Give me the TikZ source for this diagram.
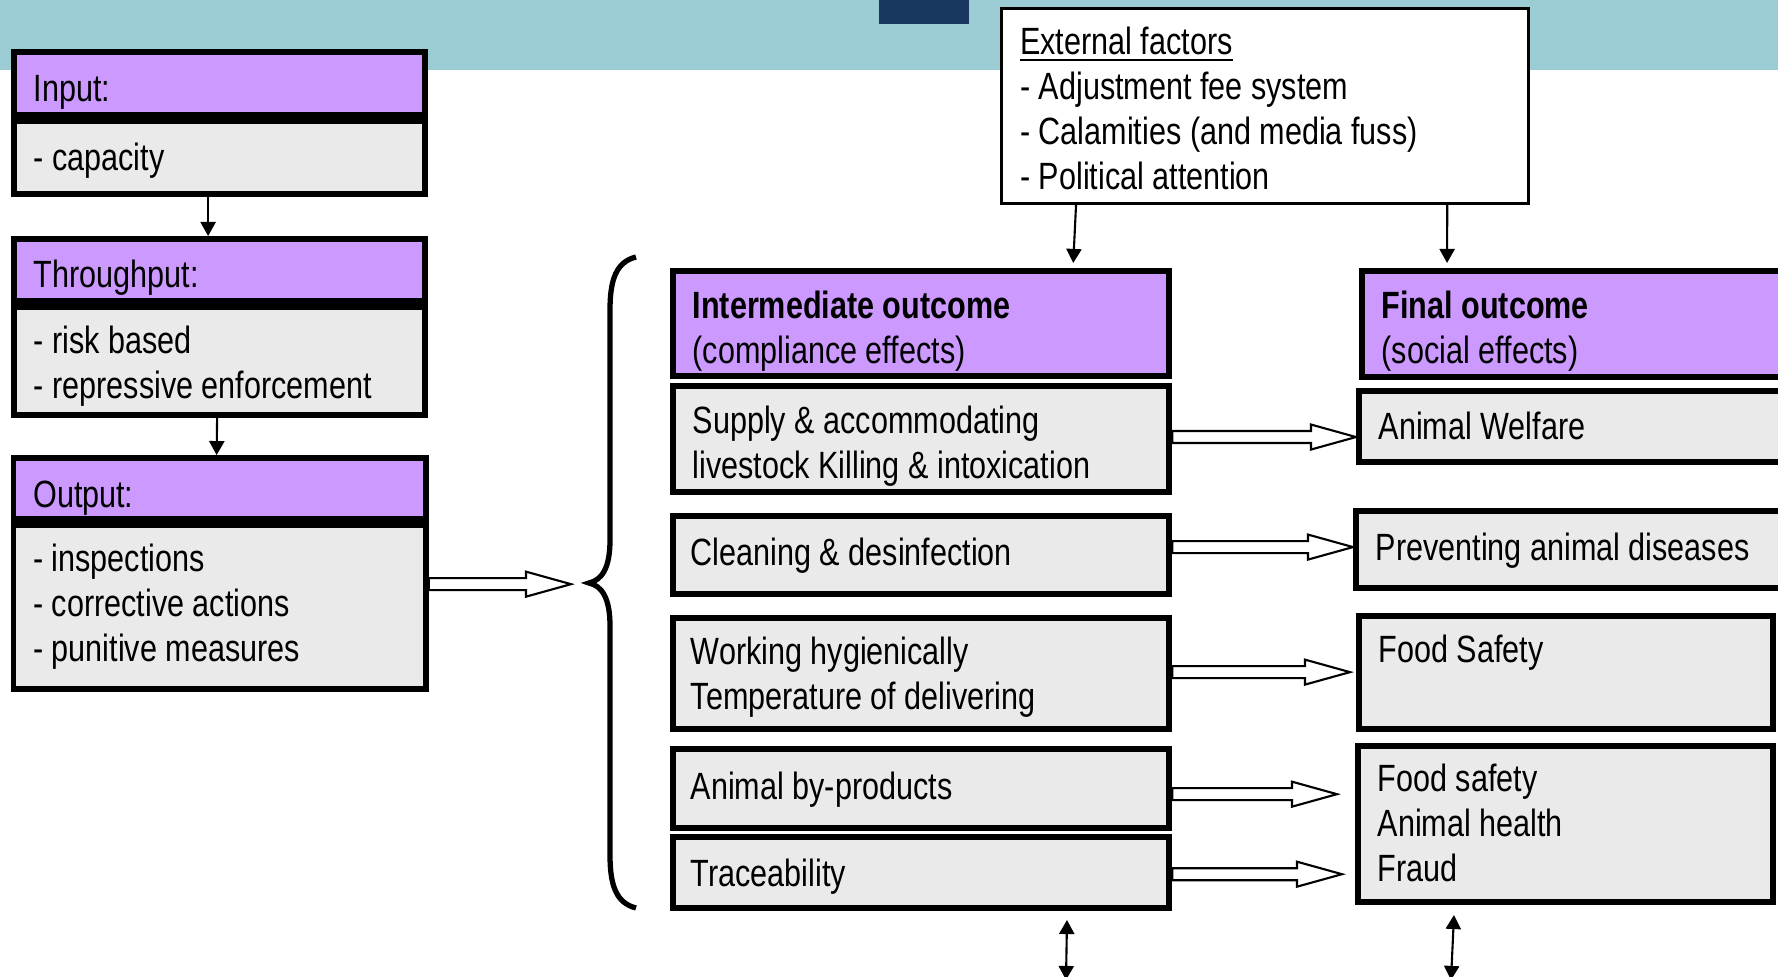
\documentclass[tikz,border=0pt]{standalone}
\usepackage{fontspec}
\setmainfont[FakeStretch=0.805]{Liberation Sans}
\usetikzlibrary{arrows.meta, positioning, calc}
\definecolor{headpurple}{HTML}{CC99FF}
\definecolor{bodygray}{HTML}{EAEAEA}
\definecolor{bandteal}{HTML}{9BCBD3}
\definecolor{bandnavy}{HTML}{17375E}
\newcommand{\boxfont}{\fontsize{10.8pt}{12.8pt}\selectfont}
\tikzstyle{head} = [rectangle, draw=black, line width=1.7pt, fill=headpurple, anchor=north west, inner sep=0pt]
\tikzstyle{body} = [rectangle, draw=black, line width=1.7pt, fill=bodygray, anchor=north west, inner sep=0pt]
\tikzstyle{factors} = [rectangle, draw=black, line width=0.8pt, fill=white, anchor=north west, inner sep=0pt]
\tikzstyle{boxtext} = [anchor=north west, inner sep=0pt, align=left, font=\boxfont, execute at begin node=\strut]
\tikzstyle{arrow} = [line width=0.6pt, -{Triangle[width=4.3pt,length=4pt]}]
\tikzstyle{twoway} = [line width=0.6pt, {Triangle[width=4.3pt,length=4pt]}-{Triangle[width=4.3pt,length=4pt]}]
\tikzstyle{hollow} = [draw=black, line width=0.6pt, fill=white]
\tikzstyle{bracket} = [line width=1.5pt]
% block arrow from #1 (start) to #2 (tip), horizontal at the height of #1
\newcommand{\blockarrow}[2]{%
  \draw[hollow] let \p1=#1, \p2=#2 in
    (\x1,\y1+0.06cm) -- (\x2-0.45cm,\y1+0.06cm) -- (\x2-0.45cm,\y1+0.125cm) -- (\x2,\y1)
    -- (\x2-0.45cm,\y1-0.125cm) -- (\x2-0.45cm,\y1-0.06cm) -- (\x1,\y1-0.06cm) -- cycle;}

\begin{document}
\begin{tikzpicture}[x=0.01cm, y=-0.01cm]
        \useasboundingbox (0,0) rectangle (1778,977);
        \clip (0,0) rectangle (1778,977);
        % Background band
        \fill[bandteal] (0,0) rectangle (1778,70);
        \fill[bandnavy] (879,0) rectangle (969,24);

        % Left column
        \node (inHead) [head, minimum width=4.11cm, minimum height=0.63cm] at (11,49) {};
        \node (inBody) [body, minimum width=4.11cm, minimum height=0.73cm, below=0pt of inHead] {};
        \node (thrHead) [head, minimum width=4.11cm, minimum height=0.62cm, below=0.39cm of inBody] {};
        \node (thrBody) [body, minimum width=4.11cm, minimum height=1.08cm, below=0pt of thrHead] {};
        \node (outHead) [head, minimum width=4.12cm, minimum height=0.61cm, below=0.37cm of thrBody] {};
        \node (outBody) [body, minimum width=4.12cm, minimum height=1.64cm, below=0pt of outHead] {};

        \node (inHeadT) [boxtext] at ([xshift=0.22cm,yshift=-0.2cm]inHead.north west) {Input:};
        \node (inBodyT) [boxtext] at ([xshift=0.22cm,yshift=-0.2cm]inBody.north west) {- capacity};
        \node (thrHeadT) [boxtext] at ([xshift=0.22cm,yshift=-0.195cm]thrHead.north west) {Throughput:};
        \node (thrBodyT) [boxtext] at ([xshift=0.22cm,yshift=-0.21cm]thrBody.north west) {- risk based\\- repressive enforcement};
        \node (outHeadT) [boxtext] at ([xshift=0.22cm,yshift=-0.2cm]outHead.north west) {Output:};
        \node (outBodyT) [boxtext] at ([xshift=0.22cm,yshift=-0.215cm]outBody.north west) {- inspections\\- corrective actions\\- punitive measures};

        % External factors
        \node (ext) [factors, minimum width=5.27cm, minimum height=1.95cm] at (1000,7) {};
        \node (extT) [boxtext] at ([xshift=0.195cm,yshift=-0.195cm]ext.north west) {\underline{External factors}\\- Adjustment fee system\\- Calamities (and media fuss)\\- Political attention};

        % Intermediate outcome column
        \node (midHead) [head, minimum width=4.96cm, minimum height=1.05cm] at (670,268) {};
        \node (supply) [body, minimum width=4.96cm, minimum height=1.06cm, below=0.04cm of midHead] {};
        \node (clean) [body, minimum width=4.96cm, minimum height=0.78cm, below=0.18cm of supply] {};
        \node (work) [body, minimum width=4.96cm, minimum height=1.11cm, below=0.18cm of clean] {};
        \node (byprod) [body, minimum width=4.96cm, minimum height=0.79cm, below=0.14cm of work] {};
        \node (trace) [body, minimum width=4.96cm, minimum height=0.71cm, below=0.03cm of byprod] {};

        \node (midHeadT) [boxtext] at ([xshift=0.22cm,yshift=-0.225cm]midHead.north west) {\textbf{Intermediate outcome}\\(compliance effects)};
        \node (supplyT) [boxtext] at ([xshift=0.22cm,yshift=-0.225cm]supply.north west) {Supply \& accommodating\\livestock Killing \& intoxication};
        \node (cleanT) [boxtext] at ([xshift=0.2cm,yshift=-0.2cm]clean.north west) {Cleaning \& desinfection};
        \node (workT) [boxtext] at ([xshift=0.2cm,yshift=-0.215cm]work.north west) {Working hygienically\\Temperature of delivering};
        \node (byprodT) [boxtext] at ([xshift=0.2cm,yshift=-0.21cm]byprod.north west) {Animal by-products};
        \node (traceT) [boxtext] at ([xshift=0.2cm,yshift=-0.2cm]trace.north west) {Traceability};

        % Final outcome column
        \node (finHead) [head, minimum width=4.6cm, minimum height=1.06cm] at (1359,268) {};
        \node (welfare) [body, minimum width=4.6cm, minimum height=0.71cm] at (1356,388) {};
        \node (prevent) [body, minimum width=4.6cm, minimum height=0.77cm] at (1353,508) {};
        \node (food) [body, minimum width=4.14cm, minimum height=1.13cm] at (1356,613) {};
        \node (multi) [body, minimum width=4.15cm, minimum height=1.56cm] at (1355,743) {};

        \node (finHeadT) [boxtext] at ([xshift=0.22cm,yshift=-0.225cm]finHead.north west) {\textbf{Final outcome}\\(social effects)};
        \node (welfareT) [boxtext] at ([xshift=0.22cm,yshift=-0.19cm]welfare.north west) {Animal Welfare};
        \node (preventT) [boxtext] at ([xshift=0.22cm,yshift=-0.2cm]prevent.north west) {Preventing animal diseases};
        \node (foodT) [boxtext] at ([xshift=0.22cm,yshift=-0.175cm]food.north west) {Food Safety};
        \node (multiT) [boxtext] at ([xshift=0.22cm,yshift=-0.2cm]multi.north west) {Food safety\\Animal health\\Fraud};

        % Brace
        \coordinate (brace) at (589,583);
        \draw[bracket] (636,257) .. controls (616,262) and (610,280) .. (610,310) -- (610,540)
            .. controls (610,568) and (602,580) .. (brace)
            .. controls (602,586) and (610,598) .. (610,626) -- (610,855)
            .. controls (610,885) and (616,903) .. (636,908);

        % Arrows
        \draw[arrow] ([xshift=1.97cm]inBody.south west) -- ([xshift=1.97cm]thrHead.north west);
        \draw[arrow] ([xshift=2.06cm]thrBody.south west) -- ([xshift=2.06cm]outHead.north west);
        \draw[arrow] ([xshift=0.76cm]ext.south west) -- ([xshift=4.03cm,yshift=0.05cm]midHead.north west);
        \draw[arrow] ([xshift=4.47cm]ext.south west) -- ([xshift=0.88cm,yshift=0.05cm]finHead.north west);

        \blockarrow{([yshift=0.23cm]outBody.east)}{([xshift=-0.18cm]brace)}
        \blockarrow{([yshift=0.02cm]supply.east)}{(welfare.west)}
        \blockarrow{([yshift=0.08cm]clean.east)}{(prevent.west)}
        \blockarrow{([yshift=0.015cm]work.east)}{([xshift=-0.06cm]food.west)}
        \blockarrow{([yshift=-0.055cm]byprod.east)}{([xshift=-0.18cm]multi.west)}
        \blockarrow{([yshift=-0.015cm]trace.east)}{([xshift=-0.13cm]multi.west)}

        \coordinate (dnA) at (1067,920);
        \coordinate (dnB) at (1066,980);
        \coordinate (dnC) at (1454,915);
        \coordinate (dnD) at (1451,980);
        \draw[twoway] (dnA) -- (dnB);
        \draw[twoway] (dnC) -- (dnD);
    \end{tikzpicture}
\end{document}
